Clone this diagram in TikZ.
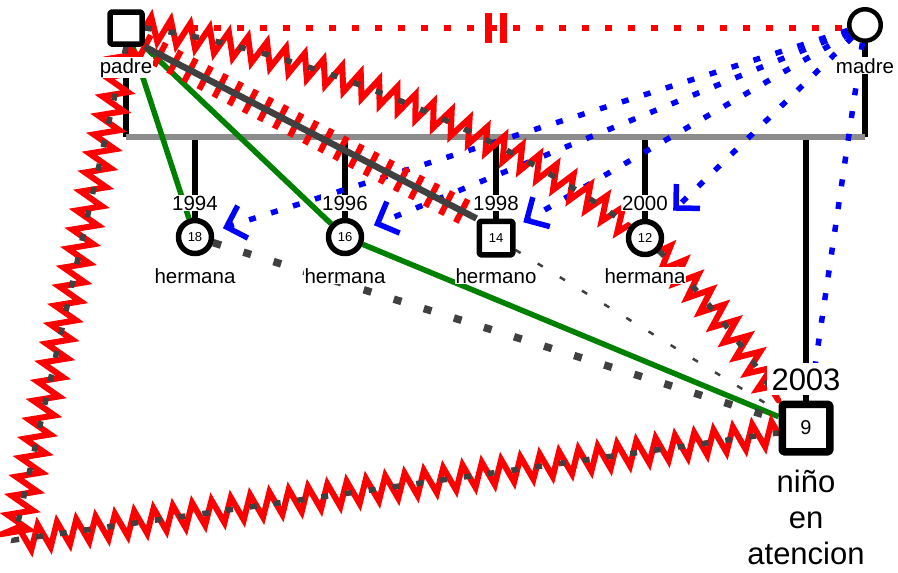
\documentclass[tikz,border=0pt]{standalone}
\usepackage{fontspec}
\setmainfont{Liberation Sans}
\usetikzlibrary{arrows.meta,backgrounds,decorations.pathmorphing,decorations.pathreplacing}
\definecolor{gris}{RGB}{140,140,140}
\definecolor{grisosc}{RGB}{64,64,64}
\definecolor{verde}{RGB}{0,128,0}
\tikzset{
  hombre/.style={draw, fill=white, line width=5.5pt, minimum size=32pt, inner sep=0pt, rounded corners=1.5pt, font=\fontsize{13}{15}\selectfont},
  mujer/.style={circle, draw, fill=white, line width=5.5pt, minimum size=33pt, inner sep=0pt, font=\fontsize{13}{15}\selectfont},
  rotulo/.style={fill=white, inner sep=1pt, anchor=base, font=\fontsize{20.5}{23}\selectfont},
  kin/.style={draw=black, line width=6pt, line cap=butt},
  union/.style={draw=gris, line width=5.5pt, line cap=butt},
  separados/.style={draw=red, line width=5.5pt, line cap=butt, dash pattern=on 7pt off 16pt},
  divmark/.style={draw=red, line width=6.5pt, line cap=butt},
  cercana/.style={draw=verde, line width=5.5pt},
  foco/.style={draw=blue, line width=5.5pt, line cap=butt, dash pattern=on 7pt off 16pt, -{Straight Barb[angle=90:24pt, sharp]}},
  distante/.style={draw=grisosc, line width=7.5pt, line cap=butt, dash pattern=on 8pt off 23.5pt},
  lejana/.style={draw=grisosc, line width=2.5pt, line cap=butt, dash pattern=on 6pt off 20pt},
  hostil/.style={draw=grisosc, line width=5.5pt, line cap=butt, dash pattern=on 7pt off 17pt,
    preaction={draw=red, solid, line width=6pt, line cap=round, decorate,
      decoration={zigzag, segment length=19.5pt, amplitude=12pt}}},
  corte/.style={draw=grisosc, line width=6.5pt, line cap=butt,
    preaction={draw=red, solid, line width=6pt, line cap=butt, decorate,
      decoration={ticks, segment length=17pt, amplitude=13pt}}}
}
\begin{document}
\begin{tikzpicture}[x=1pt, y=-1pt, line join=round, line cap=round]
\useasboundingbox (0,0) rectangle (898,573);
\def\ybar{137} % linea de la pareja
\coordinate (bar) at (0,\ybar);
\coordinate (esq) at (14,540);
% personas
\node[hombre] (padre) at (126,28) {};
\node[mujer, minimum size=31.5pt, line width=4.5pt] (madre) at (865,25) {};
\node[mujer] (h18) at (195,237) {18};
\node[mujer] (h16) at (345,237) {16};
\node[hombre, minimum size=33.5pt] (h14) at (496,238) {14};
\node[mujer] (h12) at (645,238) {12};
\node[hombre, line width=7.5pt, minimum size=47.5pt, font=\fontsize{20}{22}\selectfont] (nino) at (806,428) {9};
% rotulos
\node[rotulo] (lpadre) at (126,73) {padre};
\node[rotulo] (lmadre) at (865,73) {madre};
\node[rotulo] (a94) at (195,210) {1994};
\node[rotulo] (a96) at (345,210) {1996};
\node[rotulo] (a98) at (496,210) {1998};
\node[rotulo] (a00) at (645,210) {2000};
\node[rotulo, inner sep=5pt, font=\fontsize{31}{34}\selectfont] (a03) at (806,390) {2003};
\node[rotulo] (l18) at (195,283) {hermana};
\node[rotulo] (l16) at (345,283) {hermana};
\node[rotulo] (l14) at (496,283) {hermano};
\node[rotulo] (l12) at (645,283) {hermana};
\node[align=center, anchor=north, inner sep=0pt, font=\fontsize{31}{36}\selectfont] (lnino) at (806,470) {niño\\en\\atencion};
\begin{scope}[on background layer]
% familia
\draw[kin] (padre) -- (padre |- bar);
\draw[kin] (madre) -- (madre |- bar);
\foreach \h in {h18,h16,h14,h12,nino}
  \draw[kin] (\h) -- (\h |- bar);
\draw[union] (padre |- bar) -- (madre |- bar);
\draw[separados] (padre.east) -- coordinate[pos=0.5] (div) (padre.east -| madre.west);
\draw[divmark] (div) ++(-7.5,-15) -- ++(0,30) (div) ++(7.5,-15) -- ++(0,30);
% relaciones
\draw[foco, shorten >=10pt] (madre) -- (h18);
\draw[foco, shorten >=12pt] (madre) -- (h16);
\draw[foco, shorten >=9pt] (madre) -- (h14);
\draw[foco, shorten >=20pt] (madre) -- (h12);
\draw[foco, shorten >=10pt] (madre) -- (nino);
\draw[cercana] (padre.290) -- (h18);
\draw[cercana] (padre.south east) -- (h16);
\draw[cercana] (h16) -- (nino);
\draw[distante] (h18) -- (nino);
\draw[lejana] (h14) -- (nino);
\draw[corte] (padre.south east) -- (h14.north west);
\draw[hostil] (padre.east) .. controls (300,50) and (500,130) .. (h12);
\draw[hostil] (h12) .. controls (690,280) and (745,345) .. (nino.north west);
\draw[hostil] (padre.south) -- (esq) -- (nino.190);
\end{scope}
\end{tikzpicture}
\end{document}
